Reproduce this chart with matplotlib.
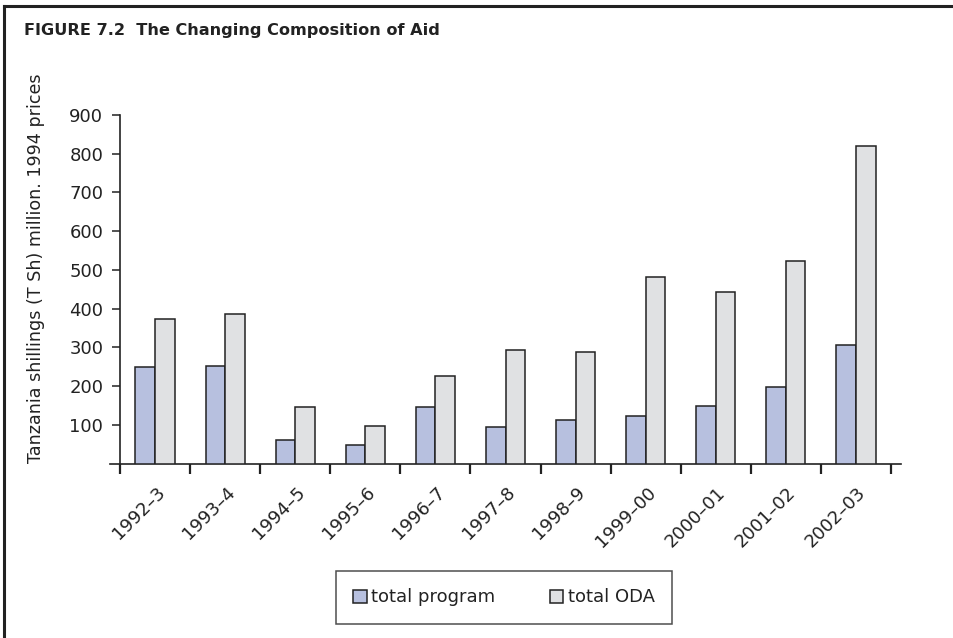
import matplotlib
matplotlib.use("Agg")
import matplotlib.pyplot as plt
import matplotlib.transforms as mtransforms
import numpy as np

categories = ["1992\u20133", "1993\u20134", "1994\u20135", "1995\u20136", "1996\u20137",
              "1997\u20138", "1998\u20139", "1999\u201300", "2000\u201301", "2001\u201302", "2002\u201303"]
total_program = [250, 253, 61, 47, 146, 94, 112, 123, 148, 197, 307]
total_oda = [373, 385, 146, 96, 227, 292, 288, 482, 442, 523, 819]
y_ticks = [100, 200, 300, 400, 500, 600, 700, 800, 900]

FONT = ["DejaVu Sans"]
plt.rcParams["font.family"] = FONT

W, H = 954, 638
fig = plt.figure(figsize=(W / 100, H / 100), dpi=100)

# axes placement (pixels)
left_px, right_px, top_px, bottom_px = 110, 901, 115, 463.5
ax = fig.add_axes([left_px / W, 1 - bottom_px / H, (right_px - left_px) / W, (bottom_px - top_px) / H])

x = np.arange(len(categories))
bw = 0.28
ax.bar(x - bw / 2, total_program, width=bw, color="#b7c0df", edgecolor="#222222", linewidth=1.1,
       label="total program", zorder=3)
ax.bar(x + bw / 2, total_oda, width=bw, color="#e0e1e3", edgecolor="#222222", linewidth=1.1,
       label="total ODA", zorder=3)

ax.set_xlim(-0.5 - 10 / 70, 10.5 + 10 / 70)
ax.set_ylim(0, 900)

for s in ["top", "right"]:
    ax.spines[s].set_visible(False)
ax.spines["left"].set_position(("data", -0.5))
ax.spines["left"].set_bounds(0, 900)
for s in ["left", "bottom"]:
    ax.spines[s].set_color("#222222")
    ax.spines[s].set_linewidth(1.2)

ax.set_yticks(y_ticks)
ax.set_yticklabels([str(v) for v in y_ticks], fontsize=13, color="#222222")
ax.tick_params(axis="y", direction="out", length=6, width=1.1, pad=6, colors="#222222")

# category labels at centers, tick marks at boundaries
ax.set_xticks(x)
ax.set_xticklabels(categories, rotation=45, ha="right", va="center", rotation_mode="anchor",
                   fontsize=13, color="#222222")
ax.tick_params(axis="x", which="major", length=0, pad=19)
ax.set_xticks(np.arange(-0.5, len(categories), 1.0), minor=True)
ax.tick_params(axis="x", which="minor", direction="out", length=7.5, width=1.6, colors="#222222")
offset = mtransforms.ScaledTranslation(7 / 100, 0, fig.dpi_scale_trans)
for lab in ax.get_xticklabels():
    lab.set_transform(lab.get_transform() + offset)

# y label
fig.text(36 / W, 1 - 268 / H, "Tanzania shillings (T Sh) million. 1994 prices", rotation=90,
         ha="center", va="center", fontsize=12.6, color="#222222")

# title
fig.text(24 / W, 1 - 31 / H, "FIGURE 7.2  The Changing Composition of Aid", ha="left", va="center",
         fontsize=11.6, fontweight="bold", color="#222222")

# frame lines (top and left)
fig.add_artist(plt.Line2D([4 / W, 1], [1 - 6 / H, 1 - 6 / H], transform=fig.transFigure,
                          color="#222222", linewidth=2.2))
fig.add_artist(plt.Line2D([4 / W, 4 / W], [0, 1 - 6 / H], transform=fig.transFigure,
                          color="#222222", linewidth=2.2))

# legend
leg = fig.legend(loc="center", bbox_to_anchor=(504 / W, 1 - 597.5 / H), ncol=2, fontsize=13,
                 frameon=True, fancybox=False, edgecolor="#222222", handlelength=0.75, handleheight=0.75,
                 handletextpad=0.25, columnspacing=3.0, borderpad=0.95)
leg.get_frame().set_linewidth(1.1)
for t in leg.get_texts():
    t.set_color("#222222")

fig.savefig("out.png", dpi=100, facecolor="white")
